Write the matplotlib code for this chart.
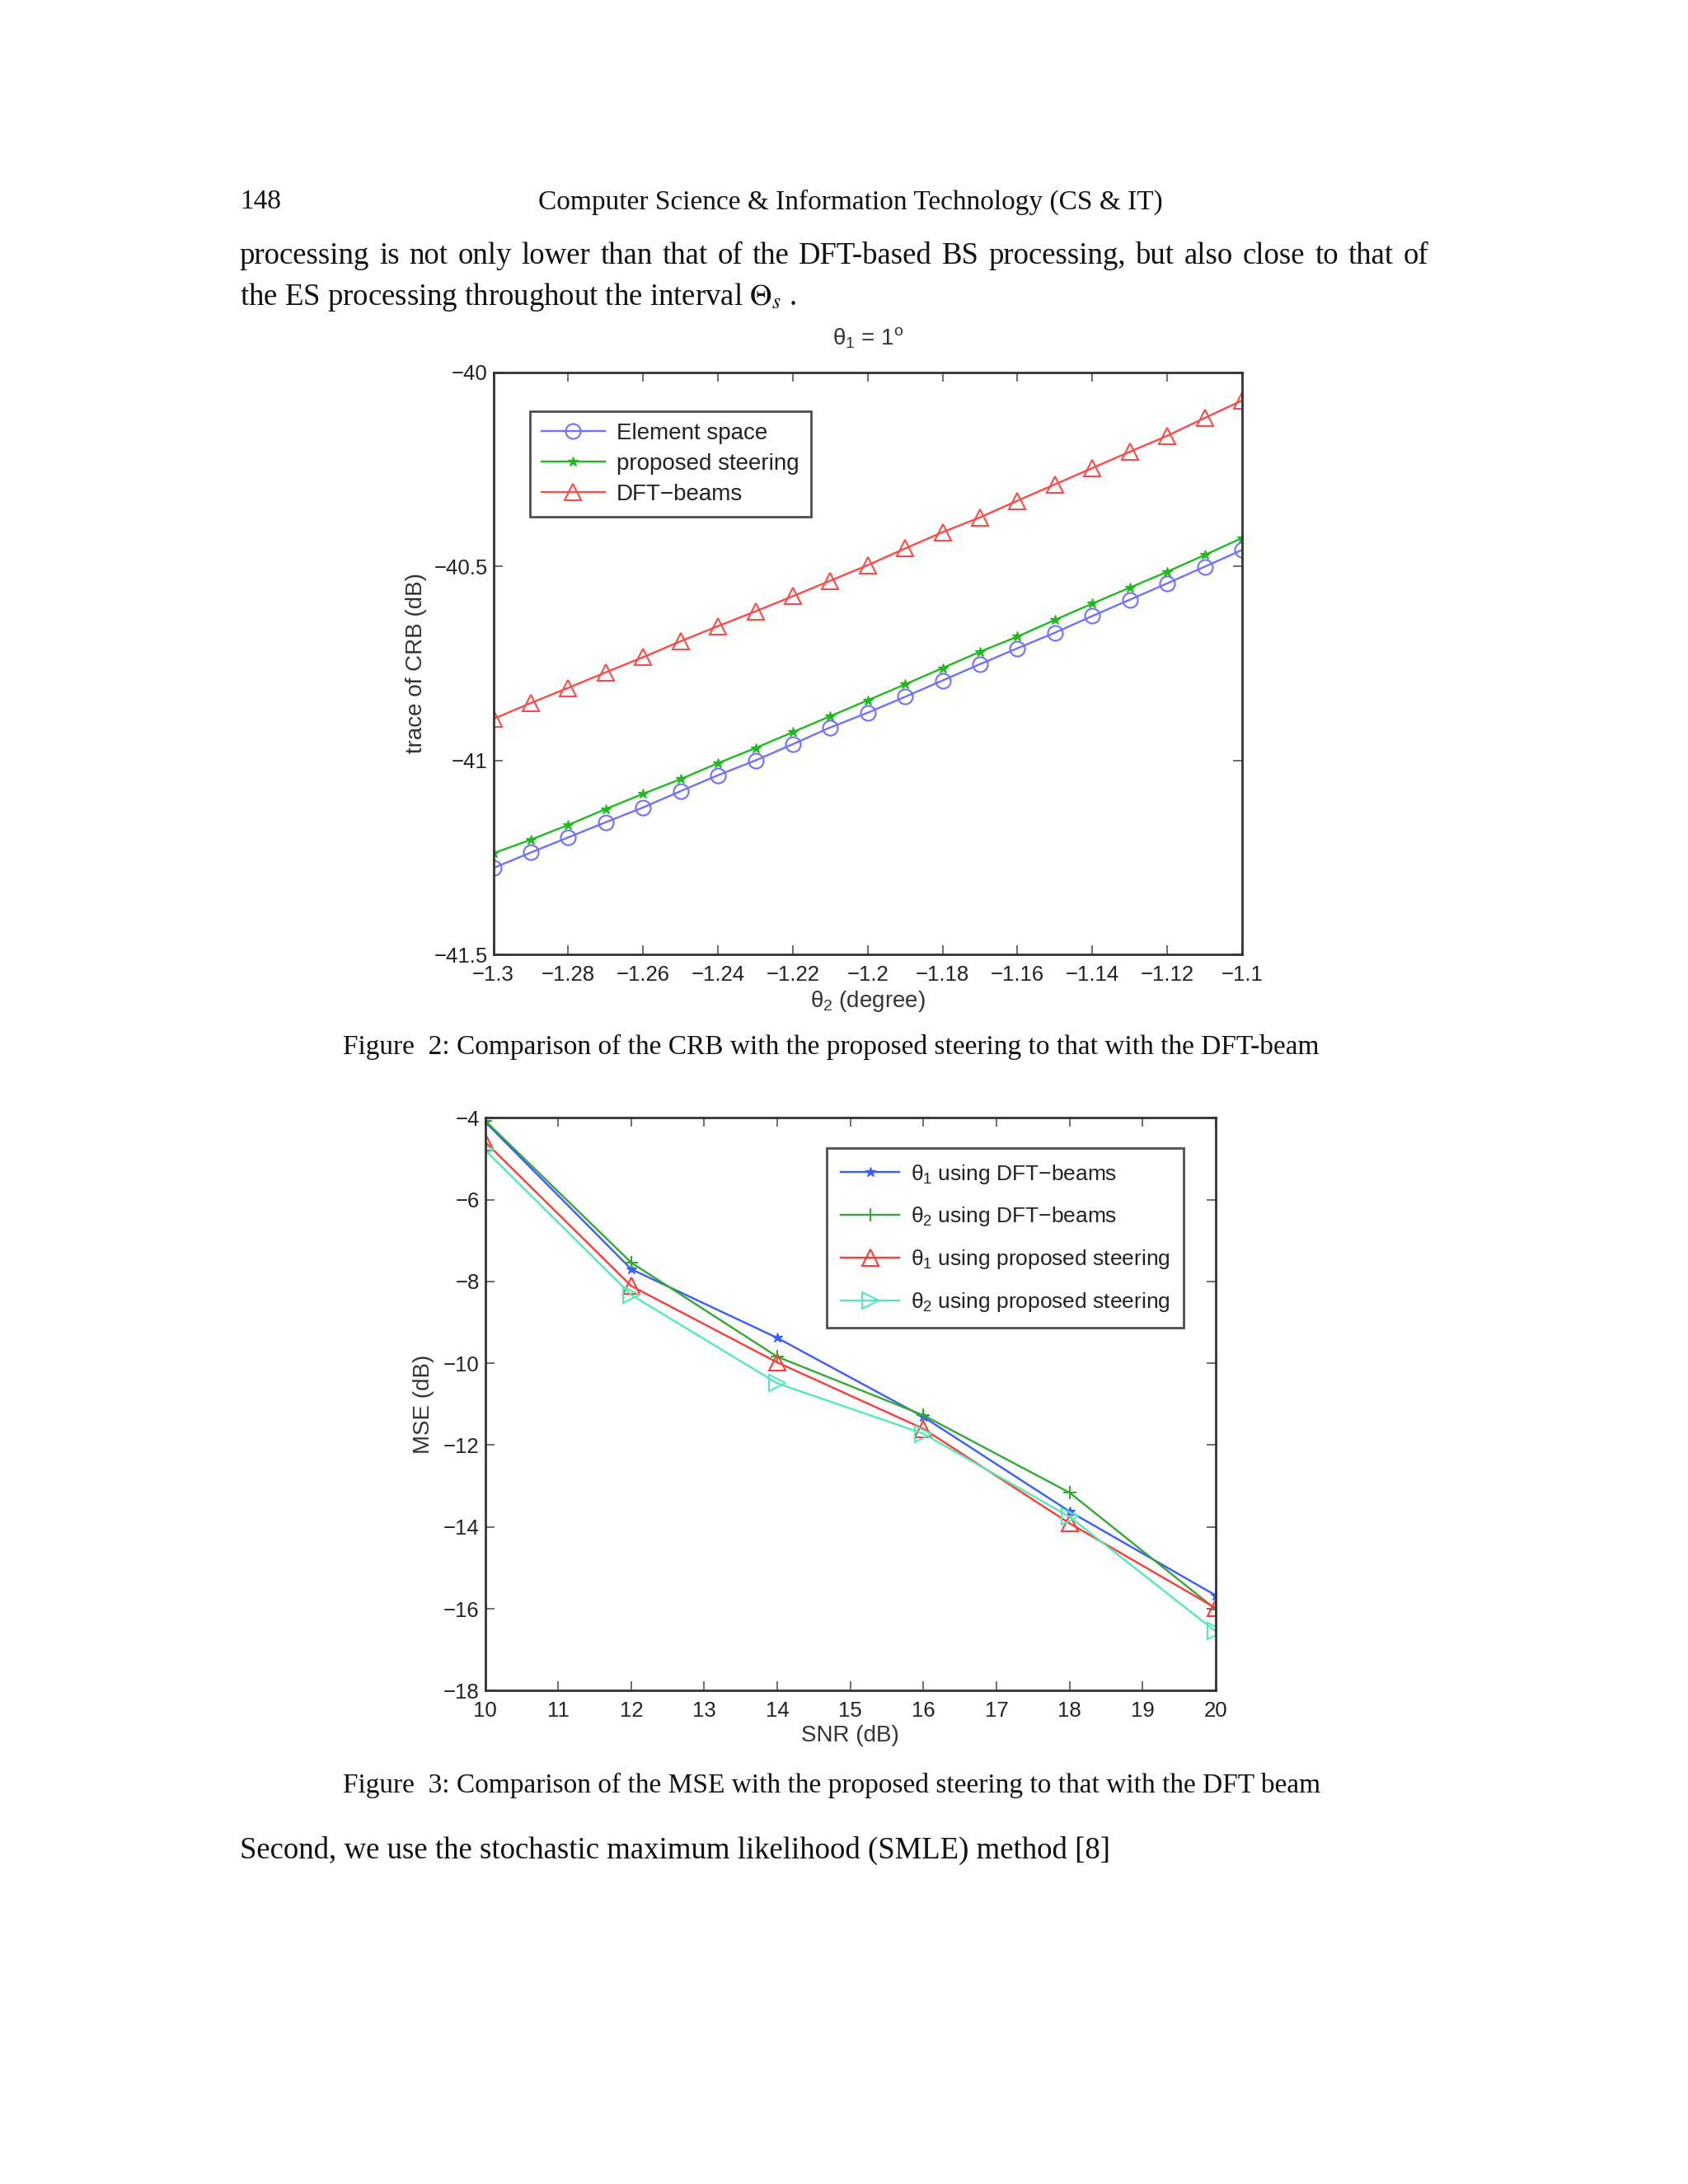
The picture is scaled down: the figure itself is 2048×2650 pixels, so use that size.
import numpy as np
import matplotlib
matplotlib.use("Agg")
import matplotlib.pyplot as plt

# ---------------- data ----------------
theta2 = [-1.30, -1.29, -1.28, -1.27, -1.26, -1.25, -1.24, -1.23, -1.22, -1.21, -1.20,
          -1.19, -1.18, -1.17, -1.16, -1.15, -1.14, -1.13, -1.12, -1.11, -1.10]
crb_element = [-41.277, -41.237, -41.198, -41.159, -41.121, -41.079, -41.038, -41.000,
               -40.958, -40.915, -40.877, -40.836, -40.794, -40.752, -40.711, -40.671,
               -40.628, -40.586, -40.544, -40.501, -40.458]
crb_proposed = [-41.239, -41.204, -41.166, -41.125, -41.086, -41.048, -41.007, -40.968,
                -40.927, -40.886, -40.845, -40.804, -40.762, -40.720, -40.681, -40.638,
                -40.596, -40.555, -40.514, -40.471, -40.427]
crb_dft = [-40.893, -40.852, -40.813, -40.773, -40.734, -40.693, -40.654, -40.616,
           -40.577, -40.537, -40.497, -40.454, -40.412, -40.374, -40.331, -40.289,
           -40.247, -40.205, -40.164, -40.118, -40.073]
crb_labels = ["Element space", "proposed steering", "DFT\u2212beams"]
crb_xticks = [-1.3, -1.28, -1.26, -1.24, -1.22, -1.2, -1.18, -1.16, -1.14, -1.12, -1.1]
crb_xticklabels = ["\u22121.3", "\u22121.28", "\u22121.26", "\u22121.24", "\u22121.22", "\u22121.2",
                   "\u22121.18", "\u22121.16", "\u22121.14", "\u22121.12", "\u22121.1"]
crb_yticks = [-41.5, -41, -40.5, -40]
crb_yticklabels = ["\u221241.5", "\u221241", "\u221240.5", "\u221240"]

snr = [10, 12, 14, 16, 18, 20]
mse_t1_dft = [-4.10, -7.70, -9.38, -11.31, -13.62, -15.67]
mse_t2_dft = [-4.07, -7.54, -9.84, -11.27, -13.16, -16.01]
mse_t1_prop = [-4.59, -8.11, -9.98, -11.60, -13.91, -15.98]
mse_t2_prop = [-4.79, -8.33, -10.49, -11.72, -13.75, -16.55]
mse_labels = [r"$\theta_1$ using DFT$-$beams", r"$\theta_2$ using DFT$-$beams",
              r"$\theta_1$ using proposed steering", r"$\theta_2$ using proposed steering"]
mse_xticks = [10, 11, 12, 13, 14, 15, 16, 17, 18, 19, 20]
mse_yticks = [-18, -16, -14, -12, -10, -8, -6, -4]
mse_yticklabels = ["\u221218", "\u221216", "\u221214", "\u221212", "\u221210", "\u22128", "\u22126", "\u22124"]

# ---------------- figure ----------------
plt.rcParams['font.family'] = ['Liberation Sans', 'DejaVu Sans']
plt.rcParams['mathtext.fontset'] = 'custom'
plt.rcParams['mathtext.rm'] = 'Liberation Sans'
plt.rcParams['mathtext.it'] = 'Liberation Sans'

fig = plt.figure(figsize=(20.48, 26.5), dpi=100)
fig.patch.set_facecolor('white')
renderer = fig.canvas.get_renderer()

serif = ['Liberation Serif', 'DejaVu Serif']
tcol = '#111111'
fs_head = 24
fs_body = 26.5
fs_cap = 24


def justified(y, text, x0, x1, fontsize):
    words = text.split(" ")
    objs = [fig.text(0, y, w, family=serif, fontsize=fontsize, va='center', ha='left', color=tcol)
            for w in words]
    inv = fig.transFigure.inverted()
    widths = []
    for o in objs:
        bb = o.get_window_extent(renderer=renderer)
        p0 = inv.transform((bb.x0, bb.y0))
        p1 = inv.transform((bb.x1, bb.y1))
        widths.append(p1[0] - p0[0])
    gap = (x1 - x0 - sum(widths)) / (len(words) - 1)
    x = x0
    for o, w in zip(objs, widths):
        o.set_x(x)
        x += w + gap


fig.text(0.142, 0.9075, "148", family=serif, fontsize=fs_head, va='center', ha='left', color=tcol)
fig.text(0.5037, 0.9075, "Computer Science & Information Technology (CS & IT)", family=serif,
         fontsize=fs_head, va='center', ha='center', color=tcol)
justified(0.8826, "processing is not only lower than that of the DFT-based BS processing, but also close to that of",
          0.142, 0.8464, fs_body)
fig.text(0.142, 0.8641, r"the ES processing throughout the interval $\Theta_s$ .",
         family=serif, fontsize=fs_body, va='center', ha='left', color=tcol, math_fontfamily='stix')
fig.text(0.2031, 0.5207, "Figure  2: Comparison of the CRB with the proposed steering to that with the DFT-beam",
         family=serif, fontsize=fs_cap, va='center', ha='left', color=tcol)
fig.text(0.2031, 0.1825, "Figure  3: Comparison of the MSE with the proposed steering to that with the DFT beam",
         family=serif, fontsize=fs_cap, va='center', ha='left', color=tcol)
fig.text(0.142, 0.1525, "Second, we use the stochastic maximum likelihood (SMLE) method [8]",
         family=serif, fontsize=fs_body, va='center', ha='left', color=tcol)

fs_tick = 18.5
fs_lab = 20
lab_col = '#333333'


def style_axes(ax):
    ax.tick_params(direction='in', top=True, right=True, length=8, width=1.2,
                   labelsize=fs_tick, colors='#555555', labelcolor='#222222')
    ax.tick_params(axis='x', pad=9)
    ax.tick_params(axis='y', pad=5)
    for s in ax.spines.values():
        s.set_linewidth(2.0)
        s.set_color('#333333')


# ---- top chart ----
ax1 = fig.add_axes([0.2923, 0.5629, 0.4435, 0.2667])
ax1.plot(theta2, crb_element, color='#7070ff', lw=1.7, marker='o', ms=13, mfc='none', mew=1.5,
         label=crb_labels[0])
ax1.plot(theta2, crb_proposed, color='#22b822', lw=1.7, marker='*', ms=9, mew=1.0,
         label=crb_labels[1])
ax1.plot(theta2, crb_dft, color='#ff4a4a', lw=1.7, marker='^', ms=14, mfc='none', mew=1.5,
         label=crb_labels[2])
ax1.set_xlim(-1.3, -1.1)
ax1.set_ylim(-41.5, -40)
ax1.set_xticks(crb_xticks)
ax1.set_xticklabels(crb_xticklabels)
ax1.set_yticks(crb_yticks)
ax1.set_yticklabels(crb_yticklabels)
style_axes(ax1)
ax1.set_xlabel(r"$\theta_2$ (degree)", fontsize=fs_lab, color=lab_col, labelpad=4)
ax1.set_ylabel("trace of CRB (dB)", fontsize=fs_lab, color=lab_col, labelpad=6)
ax1.set_title(r"$\theta_1$ = 1$^{\rm o}$", fontsize=fs_lab, color=lab_col, pad=24)
leg1 = ax1.legend(loc='upper left', bbox_to_anchor=(0.3138, 0.8117), bbox_transform=fig.transFigure,
                  fontsize=20, frameon=True, fancybox=False, borderpad=0.5, labelspacing=0.4,
                  handlelength=2.8, handletextpad=0.5, borderaxespad=0)
leg1.get_frame().set_edgecolor('#222222')
leg1.get_frame().set_linewidth(2.0)
for t in leg1.get_texts():
    t.set_color('#222222')

# ---- bottom chart ----
ax2 = fig.add_axes([0.2874, 0.2259, 0.4327, 0.2623])
ax2.plot(snr, mse_t1_dft, color='#3a5cff', lw=1.7, marker='*', ms=9, label=mse_labels[0])
ax2.plot(snr, mse_t2_dft, color='#33a833', lw=1.7, marker='+', ms=12, mew=1.4, label=mse_labels[1])
ax2.plot(snr, mse_t1_prop, color='#ff3a3a', lw=1.7, marker='^', ms=14, mfc='none', mew=1.5,
         label=mse_labels[2])
ax2.plot(snr, mse_t2_prop, color='#55e8b8', lw=1.7, marker='>', ms=14, mfc='none', mew=1.5,
         label=mse_labels[3])
ax2.set_xlim(10, 20)
ax2.set_ylim(-18, -4)
ax2.set_xticks(mse_xticks)
ax2.set_yticks(mse_yticks)
ax2.set_yticklabels(mse_yticklabels)
style_axes(ax2)
ax2.set_xlabel("SNR (dB)", fontsize=fs_lab, color=lab_col, labelpad=4)
ax2.set_ylabel("MSE (dB)", fontsize=fs_lab, color=lab_col, labelpad=8)
leg2 = ax2.legend(loc='upper left', bbox_to_anchor=(0.4897, 0.4742), bbox_transform=fig.transFigure,
                  fontsize=19, frameon=True, fancybox=False, borderpad=0.65, labelspacing=0.9,
                  handlelength=2.7, handletextpad=0.5, borderaxespad=0)
leg2.get_frame().set_edgecolor('#222222')
leg2.get_frame().set_linewidth(2.0)
for t in leg2.get_texts():
    t.set_color('#222222')

fig.savefig("out.png", dpi=100, facecolor='white')
